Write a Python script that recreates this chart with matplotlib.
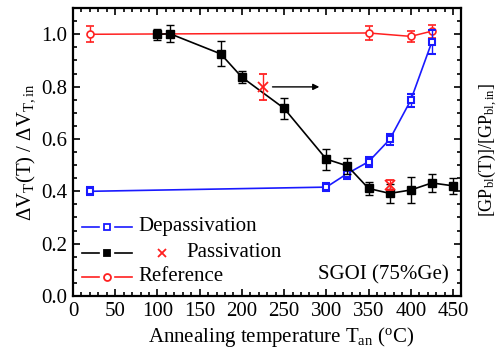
import matplotlib
matplotlib.use("Agg")
import matplotlib.pyplot as plt
from matplotlib.ticker import MultipleLocator
from matplotlib.lines import Line2D

plt.rcParams['font.family'] = ['Liberation Serif', 'DejaVu Serif']
plt.rcParams['mathtext.fontset'] = 'custom'
plt.rcParams['mathtext.rm'] = 'Liberation Serif'
plt.rcParams['mathtext.it'] = 'Liberation Serif:italic'
plt.rcParams['mathtext.bf'] = 'Liberation Serif:bold'

# Data
dep_x = [20, 300, 325, 350, 375, 400, 425]
dep_y = [0.400, 0.416, 0.468, 0.513, 0.598, 0.748, 0.971]
dep_e = [0.015, 0.015, 0.020, 0.020, 0.020, 0.025, 0.045]

pas_x = [100, 115, 175, 200, 250, 300, 325, 350, 375, 400, 425, 450]
pas_y = [1.000, 1.002, 0.925, 0.836, 0.717, 0.523, 0.497, 0.411, 0.392, 0.405, 0.432, 0.421]
pas_e = [0.020, 0.033, 0.048, 0.022, 0.040, 0.040, 0.030, 0.025, 0.035, 0.050, 0.035, 0.030]

px_x = [225, 375]
px_y = [0.799, 0.424]
px_e = [0.050, 0.020]

ref_x = [20, 350, 400, 425]
ref_y = [1.000, 1.005, 0.992, 1.012]
ref_e = [0.030, 0.025, 0.020, 0.025]

xticks = [0, 50, 100, 150, 200, 250, 300, 350, 400, 450]
yticks = [0.0, 0.2, 0.4, 0.6, 0.8, 1.0]

BLUE = '#1a1aff'
RED = '#ff2020'
FS = 15

fig = plt.figure(figsize=(5.01, 3.53), dpi=100)
ax = fig.add_axes([0.1457, 0.1615, 0.7753, 0.8155])

# Reference
ax.errorbar(ref_x, ref_y, yerr=ref_e, color=RED, lw=1.1, marker='o', ms=5,
            mfc='white', mec=RED, mew=1.2, capsize=3, elinewidth=1, zorder=3)
# Depassivation
ax.errorbar(dep_x, dep_y, yerr=dep_e, color=BLUE, lw=1.2, marker='s', ms=5,
            mfc='white', mec=BLUE, mew=1.5, capsize=3, elinewidth=1, zorder=4)
# Passivation
ax.errorbar(pas_x, pas_y, yerr=pas_e, color='black', lw=1.2, marker='s', ms=6,
            mfc='black', mec='black', capsize=3, elinewidth=1, zorder=5)
ax.errorbar(px_x, px_y, yerr=px_e, color=RED, ls='none', marker='x', ms=7,
            mew=1.3, capsize=3, elinewidth=1, zorder=6)

ax.annotate('', xy=(295, px_y[0]), xytext=(233, px_y[0]),
            arrowprops=dict(arrowstyle='-|>', color='black', lw=1,
                            mutation_scale=9))

ax.set_xlim(0, 460)
ax.set_ylim(0, 1.1)
ax.set_xticks(xticks)
ax.set_yticks(yticks)
ax.set_yticklabels([f'{v:.1f}' for v in yticks])
ax.xaxis.set_minor_locator(MultipleLocator(10))
ax.yaxis.set_minor_locator(MultipleLocator(0.05))
ax.tick_params(which='both', direction='in', top=True, right=True,
               labelsize=FS, width=1.2)
ax.tick_params(which='major', length=5, pad=4)
ax.tick_params(which='minor', length=3)
for s in ax.spines.values():
    s.set_linewidth(1.6)

ax.set_xlabel(r'Annealing temperature T$_{\mathrm{an}}$ ($^{\mathrm{o}}$C)',
              fontsize=FS, labelpad=1)
ax.xaxis.set_label_coords(0.535, -0.1, transform=ax.transAxes)
ax.xaxis.label.set_va('top')
ax.set_ylabel(r'$\Delta$V$_{\mathrm{T}}$(T) / $\Delta$V$_{\mathrm{T,in}}$',
              fontsize=FS, labelpad=3)
fig.text(0.974, 0.575, r'[GP$_{\mathrm{bl}}$(T)]/[GP$_{\mathrm{bl,in}}$]',
         rotation=90, fontsize=13, ha='center', va='center')

ax.text(0.968, 0.073, 'SGOI (75%Ge)', transform=ax.transAxes, fontsize=FS,
        ha='right', va='center')

# Manual legend
tr = ax.transAxes
rows = [(0.240, BLUE, 's', 'white', 'Depassivation'),
        (0.150, 'black', 's', 'black', None),
        (0.066, RED, 'o', 'white', 'Reference')]
x0, xm, x1 = 0.023, 0.087, 0.152
for yy, c, m, mf, lab in rows:
    ax.add_line(Line2D([x0, xm - 0.02], [yy, yy], color=c, lw=1.2, transform=tr))
    ax.add_line(Line2D([xm + 0.02, x1], [yy, yy], color=c, lw=1.2, transform=tr))
    ax.add_line(Line2D([xm], [yy], color=c, marker=m, ms=5, mfc=mf, mec=c,
                       mew=1.3, transform=tr))
    if lab:
        ax.text(0.168, yy, lab, transform=tr, fontsize=FS, va='center', ha='left')
ax.add_line(Line2D([0.229], [0.150], color=RED, marker='x', ms=6, mew=1.3,
                   ls='none', transform=tr))
ax.text(0.293, 0.150, 'Passivation', transform=tr, fontsize=FS, va='center',
        ha='left')

fig.savefig('out.png', dpi=100)
